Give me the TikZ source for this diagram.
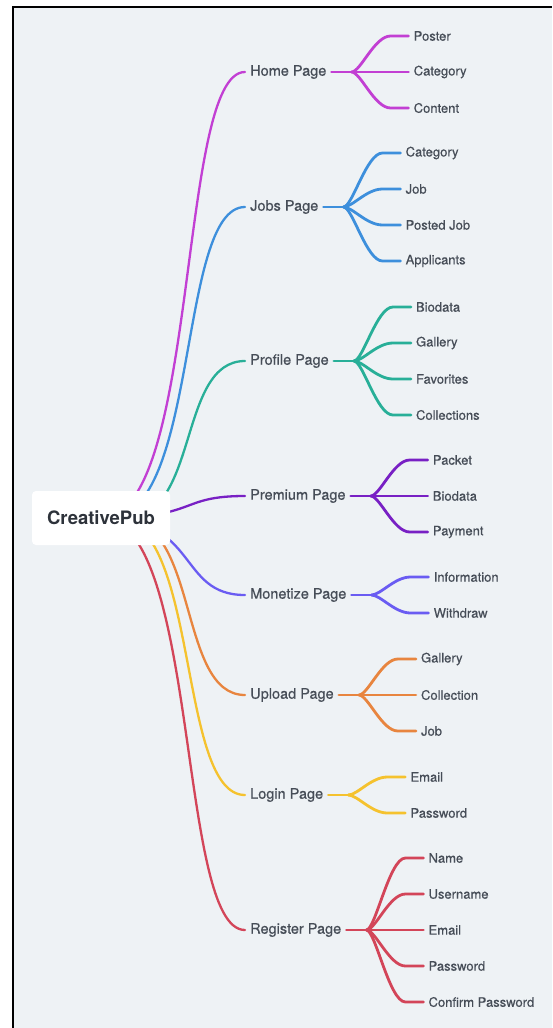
\documentclass[tikz,border=0pt]{standalone}
\usepackage{fontspec}
\setmainfont{TeX Gyre Heros}
\newfontfamily\labelfont{TeX Gyre Heros}[FakeBold=0.5]
\usetikzlibrary{calc}
\pgfdeclarelayer{bg}
\pgfdeclarelayer{edges}
\pgfsetlayers{bg,edges,main}

\definecolor{paper}{HTML}{EEF2F5}
\definecolor{ink}{HTML}{464D57}
\definecolor{rootink}{HTML}{2D323A}
\definecolor{cHome}{HTML}{C23FD3}
\definecolor{cJobs}{HTML}{3D8FDC}
\definecolor{cProfile}{HTML}{28AF98}
\definecolor{cPremium}{HTML}{7820C4}
\definecolor{cMonetize}{HTML}{6A5CF2}
\definecolor{cUpload}{HTML}{E8853F}
\definecolor{cLogin}{HTML}{F5C22E}
\definecolor{cRegister}{HTML}{D34559}

% fan of leaves from a page node: stub to a junction, then S-curves to each leaf
\newcommand\mapbranch[3]{%
  \draw[twig,#2] (#1.east) -- ++(20,0) coordinate (#1-j);
  \foreach \i/\dy/\t in {#3}{
    \node[leaf] (#1-\i) at ($(#1.east)+(77,\dy)$) {\t};
    \draw[twig,#2] (#1-j) .. controls +(9,0) and ($(#1-\i.west)+(-34,0)$) .. ($(#1-\i.west)+(-18,0)$) -- (#1-\i.west);
  }}

% curve from the centre of the root to a page node
\newcommand\trunkto[3]{%
  \begin{pgfonlayer}{edges}
  \draw[trunk,#2] ($(root.center)+(#3,0)$) .. controls ($(root.center)+(99,0)$) and ($(#1.west)+(-68,0)$) .. (#1.west);
  \end{pgfonlayer}}

\begin{document}
\begin{tikzpicture}[x=1pt,y=-1pt,
  page/.style={anchor=west, inner xsep=5pt, inner ysep=2pt, text=ink,
    font=\labelfont\fontsize{14.5}{16}\selectfont},
  leaf/.style={anchor=west, inner xsep=5pt, inner ysep=2pt, text=ink,
    font=\labelfont\fontsize{13}{15}\selectfont},
  trunk/.style={line width=2.3pt, line cap=round},
  twig/.style={line width=2.8pt, line cap=round}]

\useasboundingbox (0,0) rectangle (552,1028);
\begin{pgfonlayer}{bg}
  \fill[white] (0,0) rectangle (552,1028);
  \fill[paper] (13,6.5) rectangle (552,1028);
  \draw[black, line width=2pt] (13,1028) -- (13,6.5) -- (552,6.5);
\end{pgfonlayer}

\node[fill=white, rounded corners=4pt, minimum width=138pt, minimum height=54pt,
  text=rootink, font=\bfseries\fontsize{18.5}{20}\selectfont] (root) at (101,518) {CreativePub};

\node[page] (home)     at (245,72)  {Home Page};
\node[page] (jobs)     at (245,207) {Jobs Page};
\node[page] (profile)  at (245,361) {Profile Page};
\node[page] (premium)  at (245,496) {Premium Page};
\node[page] (monetize) at (245,595) {Monetize Page};
\node[page] (upload)   at (245,695) {Upload Page};
\node[page] (login)    at (245,795) {Login Page};
\node[page] (register) at (245,930) {Register Page};

\trunkto{home}{cHome}{0}
\trunkto{jobs}{cJobs}{7}
\trunkto{profile}{cProfile}{24}
\trunkto{premium}{cPremium}{0}
\trunkto{monetize}{cMonetize}{0}
\trunkto{upload}{cUpload}{20}
\trunkto{login}{cLogin}{14}
\trunkto{register}{cRegister}{0}

\mapbranch{home}{cHome}{1/-36/Poster, 2/0/Category, 3/36/Content}
\mapbranch{jobs}{cJobs}{1/-54/Category, 2/-18/Job, 3/18/Posted Job, 4/54/Applicants}
\mapbranch{profile}{cProfile}{1/-54/Biodata, 2/-18/Gallery, 3/18/Favorites, 4/54/Collections}
\mapbranch{premium}{cPremium}{1/-36/Packet, 2/0/Biodata, 3/36/Payment}
\mapbranch{monetize}{cMonetize}{1/-18/Information, 2/18/Withdraw}
\mapbranch{upload}{cUpload}{1/-36/Gallery, 2/0/Collection, 3/36/Job}
\mapbranch{login}{cLogin}{1/-18/Email, 2/18/Password}
\mapbranch{register}{cRegister}{1/-72/Name, 2/-36/Username, 3/0/Email, 4/36/Password, 5/72/Confirm Password}
\end{tikzpicture}
\end{document}
